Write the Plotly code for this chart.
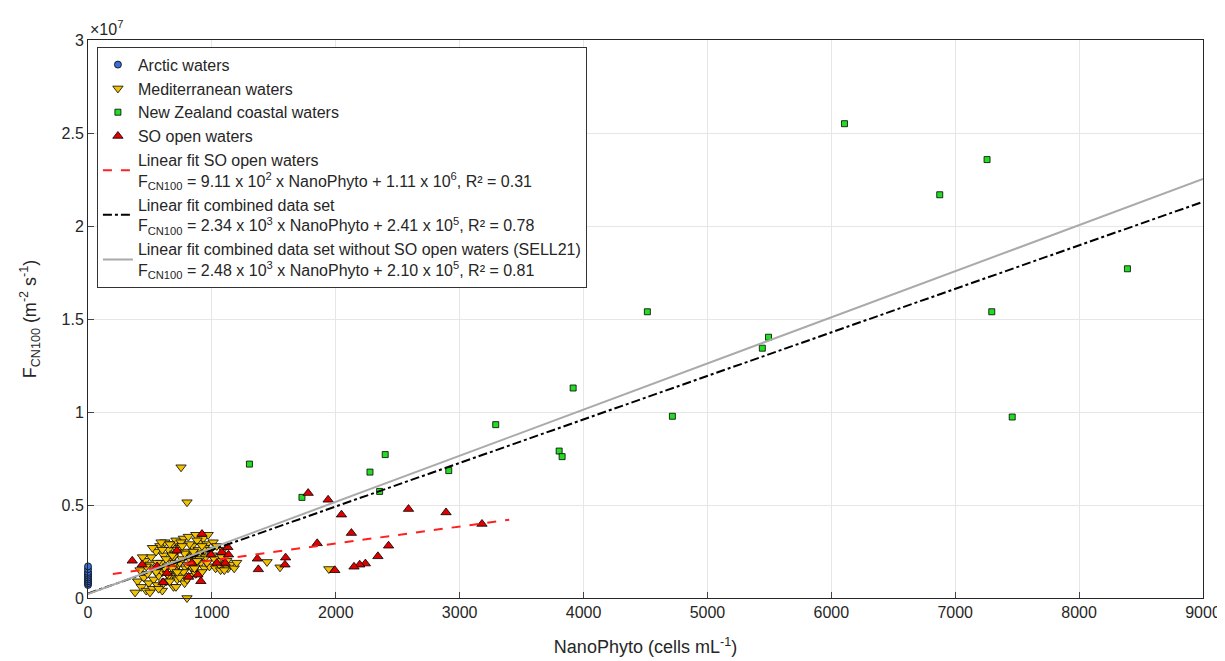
import plotly.graph_objects as go

# Arctic waters (x, y in 1e6)
arc_x = [0, 0, 0, 0, 0, 0, 0, 0, 0, 0]
arc_y = [0.7, 0.8, 0.9, 1.0, 1.1, 1.2, 1.3, 1.4, 1.55, 1.7]

# Mediterranean waters
med_x = [380, 400, 420, 430, 450, 460, 470, 480, 490, 500, 510, 520, 530, 540, 550, 560, 570, 580, 590, 600,
         600, 610, 620, 630, 640, 650, 660, 670, 680, 690, 700, 700, 710, 720, 730, 740, 750, 760, 770, 780,
         790, 800, 810, 820, 830, 840, 850, 860, 870, 880, 890, 900, 910, 920, 930, 940, 950, 960, 980, 1000,
         1010, 1030, 1050, 1070, 1090, 1110, 1130, 1150, 1180,
         440, 470, 500, 520, 550, 570, 590, 610, 630, 650, 660, 680, 690, 710, 720, 740, 750, 770, 780, 800,
         820, 830, 850, 870, 880, 900, 920, 940, 960, 970, 990, 1020, 1040, 1060, 1080, 1100, 1120,
         620, 660, 700, 740, 800, 860, 560, 600, 640, 680, 720, 760, 840, 880, 920,
         751, 799, 799, 1445, 1550, 1944, 1200]
med_y = [0.3, 0.9, 1.5, 0.6, 1.1, 2.0, 0.4, 1.3, 0.8, 1.8, 2.2, 0.5, 1.0, 1.6, 2.5, 0.7, 1.2, 2.8, 1.9, 0.4,
         1.4, 2.3, 3.0, 0.9, 1.7, 2.6, 1.1, 2.0, 2.9, 0.6, 1.5, 2.4, 3.1, 1.0, 1.8, 2.7, 1.3, 2.1, 3.2, 0.8,
         1.6, 2.5, 3.3, 1.2, 2.0, 2.8, 1.5, 2.3, 3.4, 1.8, 2.6, 3.0, 1.9, 2.4, 3.2, 1.6, 2.2, 2.9, 1.7, 2.3,
         3.0, 1.6, 2.0, 1.5, 2.6, 1.7, 1.6, 1.8, 1.6,
         2.2, 1.7, 0.3, 2.7, 1.4, 0.5, 3.0, 0.8, 2.1, 1.2, 2.9, 1.6, 2.2, 0.6, 2.6, 1.9, 3.0, 1.4, 2.4, 1.0,
         2.9, 1.7, 2.5, 1.3, 3.1, 2.1, 1.4, 2.7, 1.9, 3.4, 2.6, 2.1, 2.8, 1.8, 2.2, 1.5, 2.0,
         1.6, 0.9, 1.9, 1.1, 1.8, 1.6, 1.9, 2.6, 1.3, 2.3, 1.4, 2.8, 2.2, 2.0, 2.8,
         7.03, 5.15, 0.0, 1.94, 1.65, 1.56, 1.9]

# New Zealand coastal waters
nz_x = [1303, 1727, 2276, 2399, 2354, 2912, 3291, 3803, 3827, 3916, 4515, 4717, 5443, 5493,
        6106, 6875, 7257, 7295, 7460, 8390]
nz_y = [7.2, 5.41, 6.77, 7.71, 5.73, 6.85, 9.32, 7.9, 7.6, 11.29, 15.39, 9.77, 13.43, 14.02,
        25.5, 21.68, 23.57, 15.39, 9.73, 17.7]

# SO open waters
so_x = [357, 1777, 1938, 2046, 2126, 2587, 2890, 3180, 1850, 2426, 2340, 2239, 2193, 2147, 1992,
        1595, 1590, 1367, 1375, 911, 887, 812, 606, 437, 718, 920, 992, 1080, 1129, 1107, 1040,
        1134, 638, 558, 839]
so_y = [2.0, 5.64, 5.28, 4.48, 3.49, 4.78, 4.6, 3.98, 2.94, 2.81, 2.24, 1.85, 1.79, 1.68, 1.49,
        2.17, 1.79, 2.11, 1.54, 0.9, 1.25, 1.13, 0.84, 1.79, 2.54, 3.44, 2.33, 2.46, 2.73, 1.88, 1.88,
        2.33, 1.34, 1.7, 1.88]

# fits: slope, intercept, x range
fit_so = (9.11e2, 1.11e6, [200, 3400])
fit_all = (2.34e3, 2.41e5, [0, 9000])
fit_sell = (2.48e3, 2.10e5, [0, 9000])

S = 1e6
fig = go.Figure()
mk = dict(line=dict(color="black", width=0.8))
fig.add_trace(go.Scatter(x=arc_x, y=[v * S for v in arc_y], mode="markers", name="Arctic waters",
                         cliponaxis=False,
                         marker=dict(symbol="circle", size=7, color="#3a6fd8", **mk)))
fig.add_trace(go.Scatter(x=med_x, y=[v * S for v in med_y], mode="markers", name="Mediterranean waters",
                         cliponaxis=False,
                         marker=dict(symbol="triangle-down", size=9, color="#f2c200", **mk)))
fig.add_trace(go.Scatter(x=nz_x, y=[v * S for v in nz_y], mode="markers", name="New Zealand coastal waters",
                         marker=dict(symbol="square", size=6, color="#22dd22", **mk)))
fig.add_trace(go.Scatter(x=so_x, y=[v * S for v in so_y], mode="markers", name="SO open waters",
                         marker=dict(symbol="triangle-up", size=9, color="#e00000", **mk)))


def fit_line(f):
    a, b, xr = f
    return xr, [a * x + b for x in xr]


for f, nm, ln in [
    (fit_so, "Linear fit SO open waters<br>F<sub>CN100</sub> = 9.11 x 10<sup>2</sup> x NanoPhyto + 1.11 x 10<sup>6</sup>, R² = 0.31",
     dict(color="#ff2020", width=2, dash="dash")),
    (fit_all, "Linear fit combined data set<br>F<sub>CN100</sub> = 2.34 x 10<sup>3</sup> x NanoPhyto + 2.41 x 10<sup>5</sup>, R² = 0.78",
     dict(color="black", width=2, dash="dashdot")),
    (fit_sell, "Linear fit combined data set without SO open waters (SELL21)<br>F<sub>CN100</sub> = 2.48 x 10<sup>3</sup> x NanoPhyto + 2.10 x 10<sup>5</sup>, R² = 0.81",
     dict(color="#aaaaaa", width=2)),
]:
    lx, ly = fit_line(f)
    fig.add_trace(go.Scatter(x=lx, y=ly, mode="lines", name=nm, line=ln))

grid = "#e6e6e6"
fig.update_layout(
    width=1217, height=653, margin=dict(l=80, r=22, t=32, b=63),
    paper_bgcolor="white", plot_bgcolor="white",
    font=dict(family="Liberation Sans, Arial", size=16, color="#262626"),
    showlegend=True,
    legend=dict(x=0.008, y=0.988, xanchor="left", yanchor="top", bgcolor="white",
                bordercolor="#333", borderwidth=1, font=dict(size=16), tracegroupgap=0,
                itemwidth=30),
    xaxis=dict(range=[0, 9000], dtick=1000, showgrid=True, gridcolor=grid, zeroline=False,
               showline=True, mirror=True, linecolor="#262626", ticks="inside", ticklen=6,
               automargin=False,
               title=dict(text="NanoPhyto (cells mL<sup>-1</sup>)", font=dict(size=18), standoff=20)),
    yaxis=dict(range=[0, 3e7], tickvals=[0, 0.5e7, 1e7, 1.5e7, 2e7, 2.5e7, 3e7],
               ticktext=["0", "0.5", "1", "1.5", "2", "2.5", "3"], showgrid=True, gridcolor=grid,
               zeroline=False, showline=True, mirror=True, linecolor="#262626", ticks="inside", ticklen=6,
               automargin=False,
               title=dict(text="F<sub>CN100</sub> (m<sup>-2</sup> s<sup>-1</sup>)", font=dict(size=18), standoff=20)),
    annotations=[dict(text="×10<sup>7</sup>", xref="paper", yref="paper", x=0, y=1, xanchor="left",
                      yanchor="bottom", showarrow=False, font=dict(size=16))],
)
fig.write_html("out.html")
